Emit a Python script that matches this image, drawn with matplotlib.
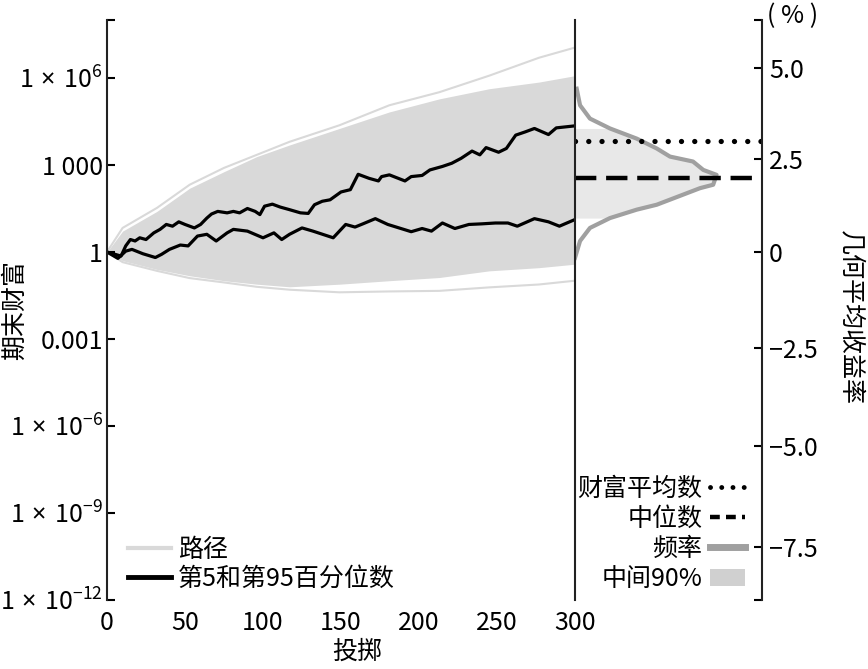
import numpy as np
import matplotlib.pyplot as plt
from matplotlib.lines import Line2D
from matplotlib.patches import Patch
from matplotlib.ticker import NullLocator

plt.rcParams['font.family'] = ['Noto Sans CJK SC', 'DejaVu Sans']
plt.rcParams['mathtext.fontset'] = 'custom'
plt.rcParams['mathtext.rm'] = 'Noto Sans CJK SC'
plt.rcParams['mathtext.sf'] = 'Noto Sans'
plt.rcParams['mathtext.default'] = 'regular'

N_TOSS = 300

# percentile paths (toss, log10 of wealth)
p95_x = [0, 9, 12, 15, 18, 21, 25, 30, 34, 38, 42, 46, 50, 56, 60, 64, 67, 71, 77,
         81, 85, 90, 95, 98, 101, 106, 111, 117, 124, 129, 133, 138, 143, 150, 156,
         161, 168, 174, 176, 181, 191, 195, 202, 207, 215, 221, 227, 234, 239, 243,
         251, 256, 262, 268, 274, 283, 288, 300]
p95_y = [0, -0.14, 0.21, 0.43, 0.38, 0.49, 0.43, 0.66, 0.78, 0.95, 0.89, 1.04, 0.95,
         0.83, 0.95, 1.17, 1.31, 1.40, 1.35, 1.40, 1.35, 1.50, 1.40, 1.29, 1.58, 1.65,
         1.55, 1.46, 1.35, 1.33, 1.63, 1.75, 1.80, 2.07, 2.15, 2.68, 2.54, 2.45, 2.60,
         2.66, 2.45, 2.60, 2.64, 2.83, 2.95, 3.06, 3.23, 3.48, 3.35, 3.60, 3.44, 3.57,
         4.03, 4.14, 4.26, 4.05, 4.28, 4.35]
p5_x = [0, 7, 12, 16, 23, 31, 35, 40, 47, 52, 58, 64, 70, 77, 81, 90, 100, 107, 112,
        117, 125, 132, 145, 153, 159, 164, 172, 180, 195, 202, 208, 215, 223, 232,
        240, 249, 257, 263, 274, 283, 290, 300]
p5_y = [0, -0.22, 0.03, 0.09, -0.06, -0.19, -0.08, 0.09, 0.24, 0.21, 0.55, 0.61, 0.38,
        0.66, 0.78, 0.72, 0.49, 0.66, 0.43, 0.61, 0.83, 0.72, 0.49, 0.95, 0.86, 0.97,
        1.15, 0.95, 0.70, 0.81, 0.72, 1.00, 0.81, 0.95, 0.97, 1.00, 1.00, 0.89, 1.15,
        1.04, 0.89, 1.12]

# spread of all the paths (dense band and the outermost paths)
band_x = [0, 10, 32, 53, 75, 96, 117, 149, 181, 213, 245, 277, 300]
band_hi = [0, 0.72, 1.40, 2.20, 2.77, 3.29, 3.69, 4.26, 4.83, 5.28, 5.63, 5.86, 6.08]
band_lo = [0, -0.30, -0.60, -0.82, -0.99, -1.11, -1.20, -1.11, -0.99, -0.88, -0.65, -0.54, -0.42]
outer_hi = [0, 0.83, 1.52, 2.32, 2.90, 3.35, 3.80, 4.37, 5.06, 5.51, 6.08, 6.70, 7.05]
outer_lo = [0, -0.35, -0.65, -0.90, -1.05, -1.20, -1.30, -1.39, -1.36, -1.34, -1.22, -1.12, -0.99]

# distribution of final wealth (log10 wealth, frequency)
hist_lw = [5.63, 5.06, 4.60, 4.26, 3.91, 3.57, 3.29, 3.12, 2.83, 2.66, 2.32, 2.20,
           1.98, 1.63, 1.46, 1.17, 0.83, 0.38, -0.20]
hist_freq = [0.9, 2.7, 8.0, 18.7, 33.0, 43.7, 50.8, 63.1, 68.6, 75.7, 73.9, 66.8,
             57.9, 43.7, 33.0, 18.7, 8.0, 2.7, 0.0]
mean_lw = 3.82
median_lw = 2.54
mid90 = (1.12, 4.26)

left_ticks = [1e-12, 1e-9, 1e-6, 1e-3, 1, 1e3, 1e6, 1e8]
left_labels = [r'$1\mathsf{\ ×\ }10^{-12}$', r'$1\mathsf{\ ×\ }10^{-9}$',
               r'$1\mathsf{\ ×\ }10^{-6}$', '0.001', '1', '1 000',
               r'$1\mathsf{\ ×\ }10^{6}$', '']
right_ticks = [-7.5, -5.0, -2.5, 0, 2.5, 5.0]
right_labels = ['−7.5', '−5.0', '−2.5', '0', '2.5', '5.0']

PATH = '#d9d9d9'
HIST = '#a0a0a0'
MID = '#e8e8e8'
FS = 18


def r2w(r):
    # geometric mean return (%) -> final wealth after N_TOSS tosses
    return (1 + np.asarray(r, dtype=float) / 100) ** N_TOSS


fig = plt.figure(figsize=(8.68, 6.69), dpi=100)
ax = fig.add_axes([107 / 868, 1 - 600 / 669, 468 / 868, 580 / 669])
axh = fig.add_axes([575 / 868, 1 - 600 / 669, 187 / 868, 580 / 669])

bx = np.array(band_x)
ax.fill_between(bx, 10 ** np.array(band_lo), 10 ** np.array(band_hi), color=PATH, lw=0)
ax.plot(bx, 10 ** np.array(outer_hi), color=PATH, lw=1.5)
ax.plot(bx, 10 ** np.array(outer_lo), color=PATH, lw=1.5)
ax.plot(p95_x, 10 ** np.array(p95_y), color='black', lw=2.3)
ax.plot(p5_x, 10 ** np.array(p5_y), color='black', lw=2.3)

ax.set_yscale('log')
ax.set_ylim(1e-12, 1e8)
ax.set_xlim(0, N_TOSS)
ax.set_yticks(left_ticks, labels=left_labels)
ax.yaxis.set_minor_locator(NullLocator())
ax.set_xticks(range(0, 301, 50))
ax.tick_params(axis='y', direction='in', length=6, width=1.5, pad=3, labelsize=FS)
ax.tick_params(axis='x', length=0, pad=7, labelsize=FS)
for s in ['top', 'right', 'bottom']:
    ax.spines[s].set_visible(False)
ax.spines['left'].set_linewidth(1.5)
ax.spines['left'].set_color('#222222')

# histogram of final wealth
hl = np.array(hist_lw)
hf = np.array(hist_freq)
inside = (hl >= mid90[0] - 0.06) & (hl <= mid90[1] + 0.01)
axh.fill_betweenx(10 ** hl, 0, hf, where=inside, color=MID, lw=0)
axh.plot(hf, 10 ** hl, color=HIST, lw=3)
axh.axhline(10 ** mean_lw, color='black', lw=3.8, linestyle=(0, (0.01, 2.5)),
            dash_capstyle='round')
axh.axhline(10 ** median_lw, color='black', lw=3.2, linestyle=(0, (4.8, 2.2)))
axh.set_xlim(0, 100)
axh.set_yscale('log')
axh.set_ylim(1e-12, 1e8)

# right axis: geometric mean return, placed at the wealth it implies
lo_r = (1e-12 ** (1 / N_TOSS) - 1) * 100
hi_r = (1e8 ** (1 / N_TOSS) - 1) * 100
r_ticks = [lo_r] + right_ticks + [hi_r]
axh.yaxis.tick_right()
axh.set_yticks(r2w(r_ticks), labels=[''] + right_labels + [''])
axh.yaxis.set_minor_locator(NullLocator())
axh.tick_params(axis='y', direction='in', length=6, width=1.5, pad=5, labelsize=FS,
                left=False, right=True)
axh.tick_params(axis='x', bottom=False, labelbottom=False)
for s in ['top', 'bottom']:
    axh.spines[s].set_visible(False)
for s in ['left', 'right']:
    axh.spines[s].set_linewidth(1.5)
    axh.spines[s].set_color('#222222')

fig.text(793 / 868, 1 - 16 / 669, '( % )', fontsize=FS, ha='center', va='center')
fig.text(15 / 868, 1 - 310 / 669, '期末财富', fontsize=FS, rotation=90,
         ha='center', va='center')
fig.text(850 / 868, 1 - 318 / 669, '几何平均收益率', fontsize=FS, rotation=270,
         ha='center', va='center')
fig.text(357 / 868, 1 - 652 / 669, '投掷', fontsize=FS, ha='center', va='center')

ax.legend(handles=[Line2D([], [], color=PATH, lw=3), Line2D([], [], color='black', lw=3.5)],
          labels=['路径', '第5和第95百分位数'], loc='lower left',
          bbox_to_anchor=((128 - 107) / 468, (600 - 592) / 580), frameon=False,
          borderpad=0, borderaxespad=0, handlelength=1.7, handletextpad=0.3,
          labelspacing=0.12, fontsize=FS)

axh.legend(handles=[Line2D([], [], color='black', lw=3.5, linestyle=(0, (0.01, 2.3)),
                           dash_capstyle='round'),
                    Line2D([], [], color='black', lw=3.2, linestyle=(0, (2.2, 1.4))),
                    Line2D([], [], color=HIST, lw=5),
                    Patch(facecolor='#d0d0d0', edgecolor='none')],
           labels=['财富平均数', '中位数', '频率', '中间90%'], loc='upper right',
           bbox_to_anchor=((745 - 575) / 187, (600 - 476) / 580), frameon=False,
           borderpad=0, borderaxespad=0, handlelength=1.4, handletextpad=0.3,
           labelspacing=0.16, fontsize=FS, markerfirst=False)

fig.savefig('out.png', dpi=100)
